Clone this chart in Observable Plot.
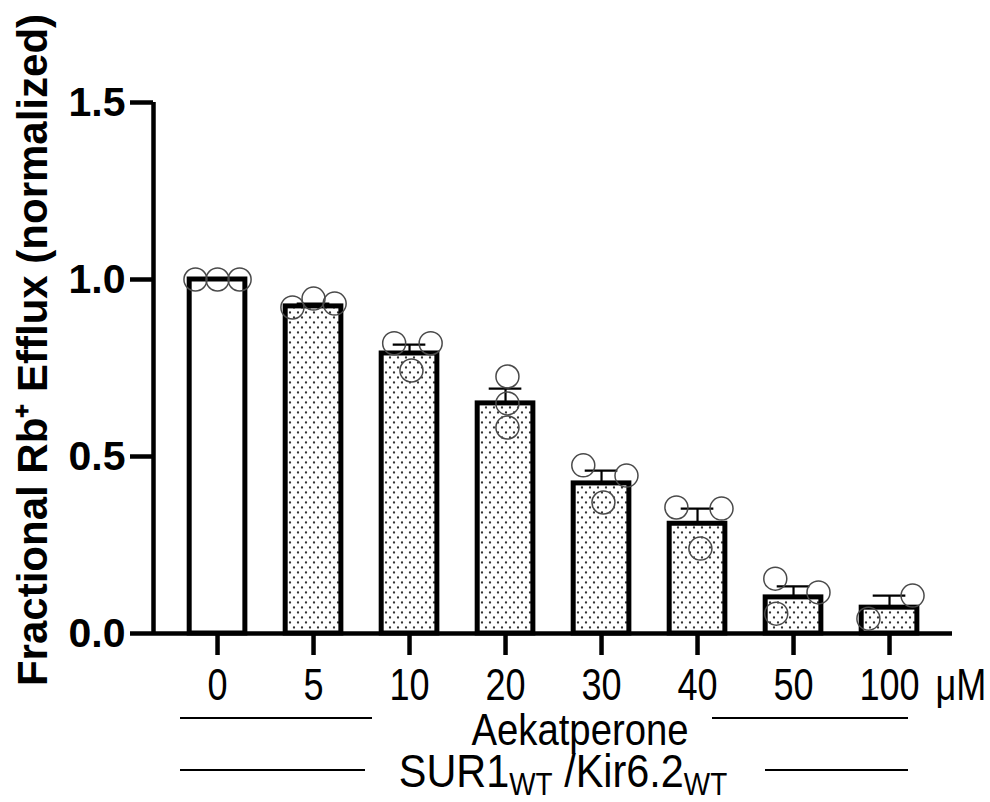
<!DOCTYPE html>
<html>
<head>
<meta charset="utf-8">
<script src="https://cdn.jsdelivr.net/npm/d3@7"></script>
<script src="https://cdn.jsdelivr.net/npm/@observablehq/plot@0.6"></script>
<style>
  html, body { margin: 0; padding: 0; background: #fff; }
  #wrap { position: relative; width: 990px; height: 802px; font-family: "Liberation Sans", Arial, sans-serif; overflow: hidden; }
  #wrap svg { display: block; }
  .grp { position: absolute; line-height: 0.9; color: #000; white-space: nowrap; transform-origin: 50% 50%; }
  .grp sub { font-size: 31px; vertical-align: -8px; line-height: 0; }
  .ln { position: absolute; height: 2px; background: #000; }
</style>
</head>
<body>
<div id="wrap"></div>
<script>
// ---- data ----
const doses = ["0", "5", "10", "20", "30", "40", "50", "100"];
const means = [1.0, 0.924, 0.791, 0.65, 0.424, 0.31, 0.102, 0.073];
const sems  = [0, 0.008, 0.025, 0.042, 0.036, 0.043, 0.031, 0.034];
const pointValues = [
  [1.0, 1.0, 1.0],
  [0.921, 0.946, 0.932],
  [0.82, 0.82, 0.743],
  [0.726, 0.65, 0.582],
  [0.475, 0.446, 0.37],
  [0.356, 0.353, 0.24],
  [0.155, 0.116, 0.056],
  [0.107, 0.042]
];
const pointJitter = [
  [-0.23, 0, 0.23],
  [-0.22, 0, 0.22],
  [-0.16, 0.22, 0.02],
  [0.02, 0.02, 0.02],
  [-0.19, 0.26, 0.02],
  [-0.22, 0.25, 0.03],
  [-0.19, 0.26, -0.18],
  [0.24, -0.22]
];
const yTicks = [0, 0.5, 1.0, 1.5];
const yLabel = "Fractional Rb\u207A Efflux (normalized)";
const unitLabel = "\u03BCM";

// ---- tables built from the arrays ----
const bars = doses.map((d, i) => ({i, dose: d, mean: means[i], sem: sems[i]}));
const points = [];
pointValues.forEach((vals, i) => vals.forEach((v, k) => points.push({i, v, jit: pointJitter[i][k]})));
const idx = doses.map((d, i) => i);
const halfBar = 0.29;
const halfCap = 0.17;
const xDomain = [-0.667, 7.656];
const squeeze = 0.82;

const plot = Plot.plot({
  width: 990,
  height: 705,
  marginLeft: 153,
  marginRight: 38,
  marginTop: 102,
  marginBottom: 72,
  style: {fontFamily: "'Liberation Sans', Arial, sans-serif", background: "white", color: "black", overflow: "visible"},
  x: {type: "linear", domain: xDomain},
  y: {domain: [0, 1.5]},
  marks: [
    Plot.axisY({ticks: yTicks, tickFormat: d3.format(".1f"), tickSize: 23, tickPadding: 5,
      strokeWidth: 4.5, fontSize: 41, fontWeight: "bold", label: null}),
    Plot.axisX({ticks: idx, tickFormat: i => doses[i], tickSize: 22, tickPadding: 13,
      strokeWidth: 4.5, fontSize: 44, label: null}),
    Plot.rect(bars.filter(d => d.i === 0), {x1: d => d.i - halfBar, x2: d => d.i + halfBar, y1: 0, y2: "mean",
      fill: "white", stroke: "black", strokeWidth: 5}),
    Plot.rect(bars.filter(d => d.i > 0), {x1: d => d.i - halfBar, x2: d => d.i + halfBar, y1: 0, y2: "mean",
      fill: "url(#dots)", stroke: "black", strokeWidth: 5}),
    Plot.ruleX(bars.filter(d => d.sem > 0), {x: "i", y1: "mean", y2: d => d.mean + d.sem, stroke: "black", strokeWidth: 2.2}),
    Plot.ruleY(bars.filter(d => d.sem > 0), {y: d => d.mean + d.sem, x1: d => d.i - halfCap, x2: d => d.i + halfCap, stroke: "black", strokeWidth: 2.2}),
    Plot.dot(points, {x: d => d.i + d.jit, y: "v", r: 11.5, fill: "none", stroke: "#4a4a4a", strokeWidth: 1.5}),
    Plot.ruleY([0], {stroke: "black", strokeWidth: 4.5}),
    Plot.ruleX([xDomain[0]], {stroke: "black", strokeWidth: 4.5}),
    Plot.text([unitLabel], {frameAnchor: "bottom-right", textAnchor: "start", lineAnchor: "top", dx: -17, dy: 35, fontSize: 44}),
    Plot.text([yLabel], {frameAnchor: "left", textAnchor: "middle", rotate: -90, dx: -120, dy: -18, fontSize: 42, fontWeight: "bold", lineAnchor: "middle"})
  ]
});

// dotted fill pattern
const ns = "http://www.w3.org/2000/svg";
const defs = document.createElementNS(ns, "defs");
defs.innerHTML = `<pattern id="dots" patternUnits="userSpaceOnUse" width="8" height="10">
  <rect width="8" height="10" fill="white"/>
  <circle cx="2" cy="2.5" r="1.15" fill="#333"/>
  <circle cx="6" cy="7.5" r="1.15" fill="#333"/>
</pattern>`;
plot.insertBefore(defs, plot.firstChild);

// narrow (condensed) look of the regular-weight labels
function condense(el) {
  const t = el.getAttribute("transform");
  if (t) {
    el.setAttribute("transform", t + ` scale(${squeeze},1)`);
  } else {
    const x = +el.getAttribute("x") || 0, y = +el.getAttribute("y") || 0;
    el.setAttribute("transform", `translate(${x},${y}) scale(${squeeze},1) translate(${-x},${-y})`);
  }
}
plot.querySelectorAll('g[aria-label="x-axis tick label"] text').forEach(condense);
plot.querySelectorAll('g[aria-label="text"] text').forEach(el => { if (el.textContent === unitLabel) condense(el); });

const wrap = document.getElementById("wrap");
wrap.appendChild(plot);

// group labels under the axis
wrap.insertAdjacentHTML("beforeend", `
  <div class="ln" style="left:180px;width:192px;top:717px"></div>
  <div class="ln" style="left:712px;width:196px;top:717px"></div>
  <div class="grp" style="left:580px;top:710px;font-size:44px;transform:translateX(-50%) scaleX(0.87)">Aekatperone</div>
  <div class="ln" style="left:180px;width:185px;top:769px"></div>
  <div class="ln" style="left:765px;width:143px;top:769px"></div>
  <div class="grp" style="left:563px;top:751px;font-size:46px;transform:translateX(-50%) scaleX(0.9)">SUR1<sub>WT</sub> /Kir6.2<sub>WT</sub></div>
`);
</script>
</body>
</html>
